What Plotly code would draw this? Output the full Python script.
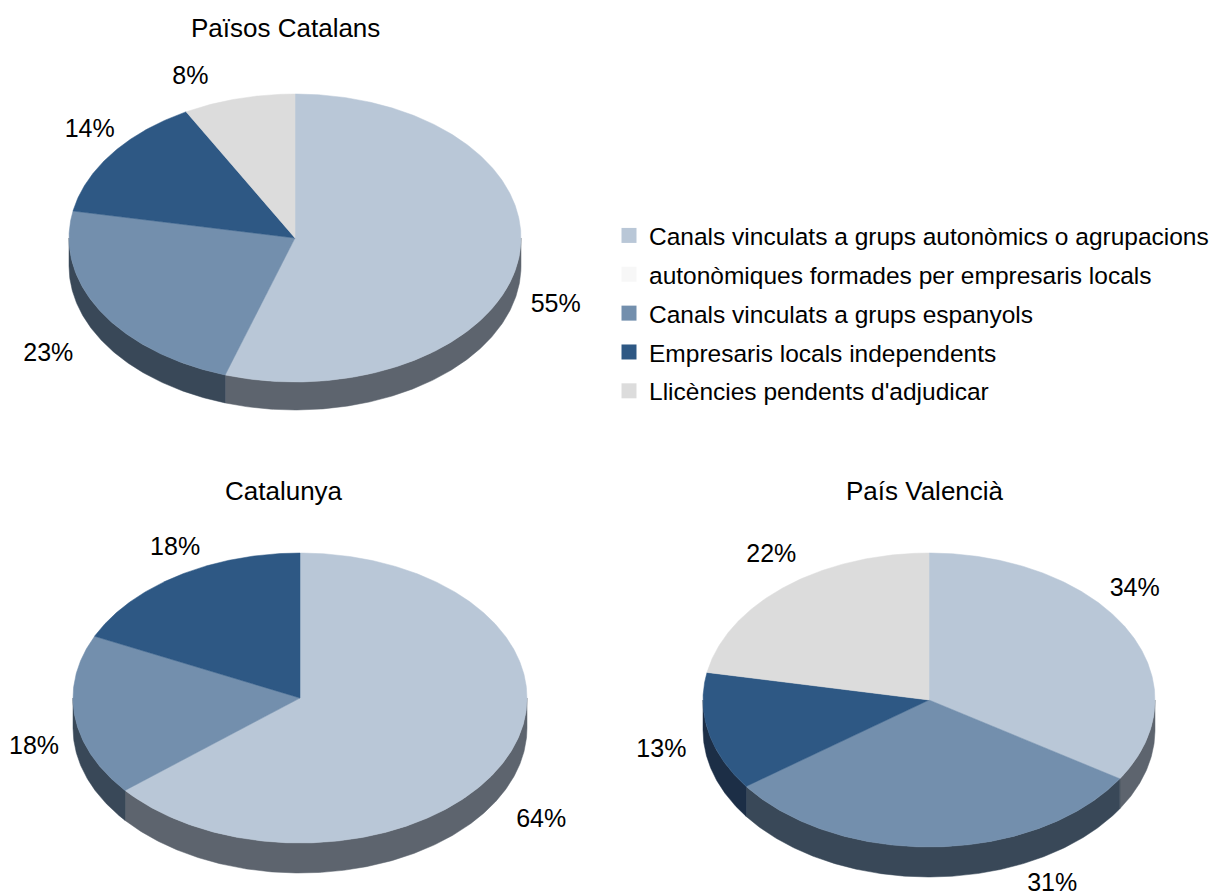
import numpy as np
import plotly.graph_objects as go

# ---------------- data ----------------
categories = [
    "Canals vinculats a grups autonòmics o agrupacions autonòmiques formades per empresaris locals",
    "Canals vinculats a grups espanyols",
    "Empresaris locals independents",
    "Llicències pendents d'adjudicar",
]
pie_titles = ["Països Catalans", "Catalunya", "País Valencià"]
paisos_catalans = [55, 23, 14, 8]
catalunya = [64, 18, 18, 0]
pais_valencia = [34, 31, 13, 22]

legend_labels = [
    "Canals vinculats a grups autonòmics o agrupacions",
    "autonòmiques formades per empresaris locals",
    "Canals vinculats a grups espanyols",
    "Empresaris locals independents",
    "Llicències pendents d'adjudicar",
]

# ---------------- style / layout ----------------
W, H = 1219, 894
OFF = 8  # page body margin: figure is shifted by this amount in the browser
top_colors = ["#B9C7D7", "#738FAD", "#2E5884", "#DCDCDC"]
side_colors = ["#5D646E", "#394858", "#1C2E46", "#8C8C8C"]
legend_colors = ["#B9C7D7", "#F7F7F7", "#738FAD", "#2E5884", "#DCDCDC"]
FONT = "Liberation Sans, Arial, sans-serif"
FS = 25

# pie geometry (page pixel units): center x, center y, radius x, radius y, depth, title pos
pie_layout = [
    dict(cx=295, cy=238, rx=226, ry=144, depth=28, tx=285, ty=28),
    dict(cx=300, cy=698, rx=227, ry=145, depth=30, tx=284, ty=491),
    dict(cx=929, cy=700, rx=226, ry=147, depth=30, tx=925, ty=491),
]
# fine placement tweaks of the percentage labels (pixels), like manual label placement
label_nudge = [
    [(4, 16), (-23, 12), (5, 3), (-40, 21)],
    [(5, 28), (-7, 1), (15, 10), (0, 0)],
    [(-22, -18), (115, 0), (-14, -13), (8, 3)],
]
pie_values = [paisos_catalans, catalunya, pais_valencia]

fig = go.Figure()


def ell(g, th):
    r = np.radians(th)
    return g["cx"] + g["rx"] * np.sin(r), g["cy"] - g["ry"] * np.cos(r)


for vals, g, nudges in zip(pie_values, pie_layout, label_nudge):
    total = float(sum(vals))
    bounds = np.concatenate([[0], np.cumsum(vals)]) / total * 360.0
    # sides (depth)
    for i in range(len(vals)):
        a, b = bounds[i], bounds[i + 1]
        s, e = max(a, 90.0), min(b, 270.0)
        if vals[i] <= 0 or s >= e:
            continue
        th = np.linspace(s, e, max(int((e - s) * 2), 4))
        x, y = ell(g, th)
        px = np.concatenate([x, x[::-1], [x[0]]])
        py = np.concatenate([y, (y + g["depth"])[::-1], [y[0]]])
        fig.add_trace(go.Scatter(x=px, y=py, mode="lines", fill="toself",
                                 fillcolor=side_colors[i],
                                 line=dict(color=side_colors[i], width=0.5),
                                 hoverinfo="skip", showlegend=False))
    # top faces
    for i in range(len(vals)):
        a, b = bounds[i], bounds[i + 1]
        if vals[i] <= 0:
            continue
        th = np.linspace(a, b, max(int((b - a) * 2), 4))
        x, y = ell(g, th)
        px = np.concatenate([[g["cx"]], x, [g["cx"]]])
        py = np.concatenate([[g["cy"]], y, [g["cy"]]])
        fig.add_trace(go.Scatter(x=px, y=py, mode="lines", fill="toself",
                                 fillcolor=top_colors[i],
                                 line=dict(color=top_colors[i], width=0.5),
                                 hoverinfo="skip", showlegend=False,
                                 name=categories[i]))
    # labels (centred on a point outside the slice's mid-angle)
    lx, ly, lt = [], [], []
    for i in range(len(vals)):
        if vals[i] <= 0:
            continue
        mid = (bounds[i] + bounds[i + 1]) / 2
        r = np.radians(mid)
        sn, cs = np.sin(r), np.cos(r)
        x = g["cx"] + g["rx"] * 1.15 * sn
        if cs >= 0:
            y = g["cy"] - g["ry"] * 1.3 * cs
        else:
            y = g["cy"] - g["ry"] * 1.05 * cs + g["depth"]
        dx, dy = nudges[i]
        lx.append(x + dx); ly.append(y + dy)
        lt.append(f"{vals[i]:.0f}%")
    fig.add_trace(go.Scatter(x=lx, y=ly, mode="text", text=lt, textposition="middle center",
                             textfont=dict(family=FONT, size=FS, color="#000000"),
                             hoverinfo="skip", showlegend=False))

# titles
for t, g in zip(pie_titles, pie_layout):
    fig.add_annotation(x=g["tx"], y=g["ty"], xref="x", yref="y", text=t,
                       showarrow=False, font=dict(family=FONT, size=26, color="#000000"),
                       xanchor="center", yanchor="middle")

# legend entries
for k, (lab, col) in enumerate(zip(legend_labels, legend_colors)):
    fig.add_trace(go.Scatter(x=[None], y=[None], mode="markers", name=lab,
                             marker=dict(symbol="square", size=15, color=col),
                             legendgroup=f"g{k}", showlegend=True))

fig.update_layout(
    width=W, height=H,
    margin=dict(l=0, r=0, t=0, b=0),
    paper_bgcolor="white", plot_bgcolor="white",
    xaxis=dict(range=[OFF, W + OFF], visible=False, fixedrange=True),
    yaxis=dict(range=[H + OFF, OFF], visible=False, fixedrange=True),
    showlegend=True,
    legend=dict(x=(609 - OFF) / W, y=1 - (213 - OFF) / H, xanchor="left", yanchor="top",
                font=dict(family=FONT, size=24.5, color="#000000"),
                tracegroupgap=4, bgcolor="rgba(0,0,0,0)"),
)

fig.write_html("out.html")
